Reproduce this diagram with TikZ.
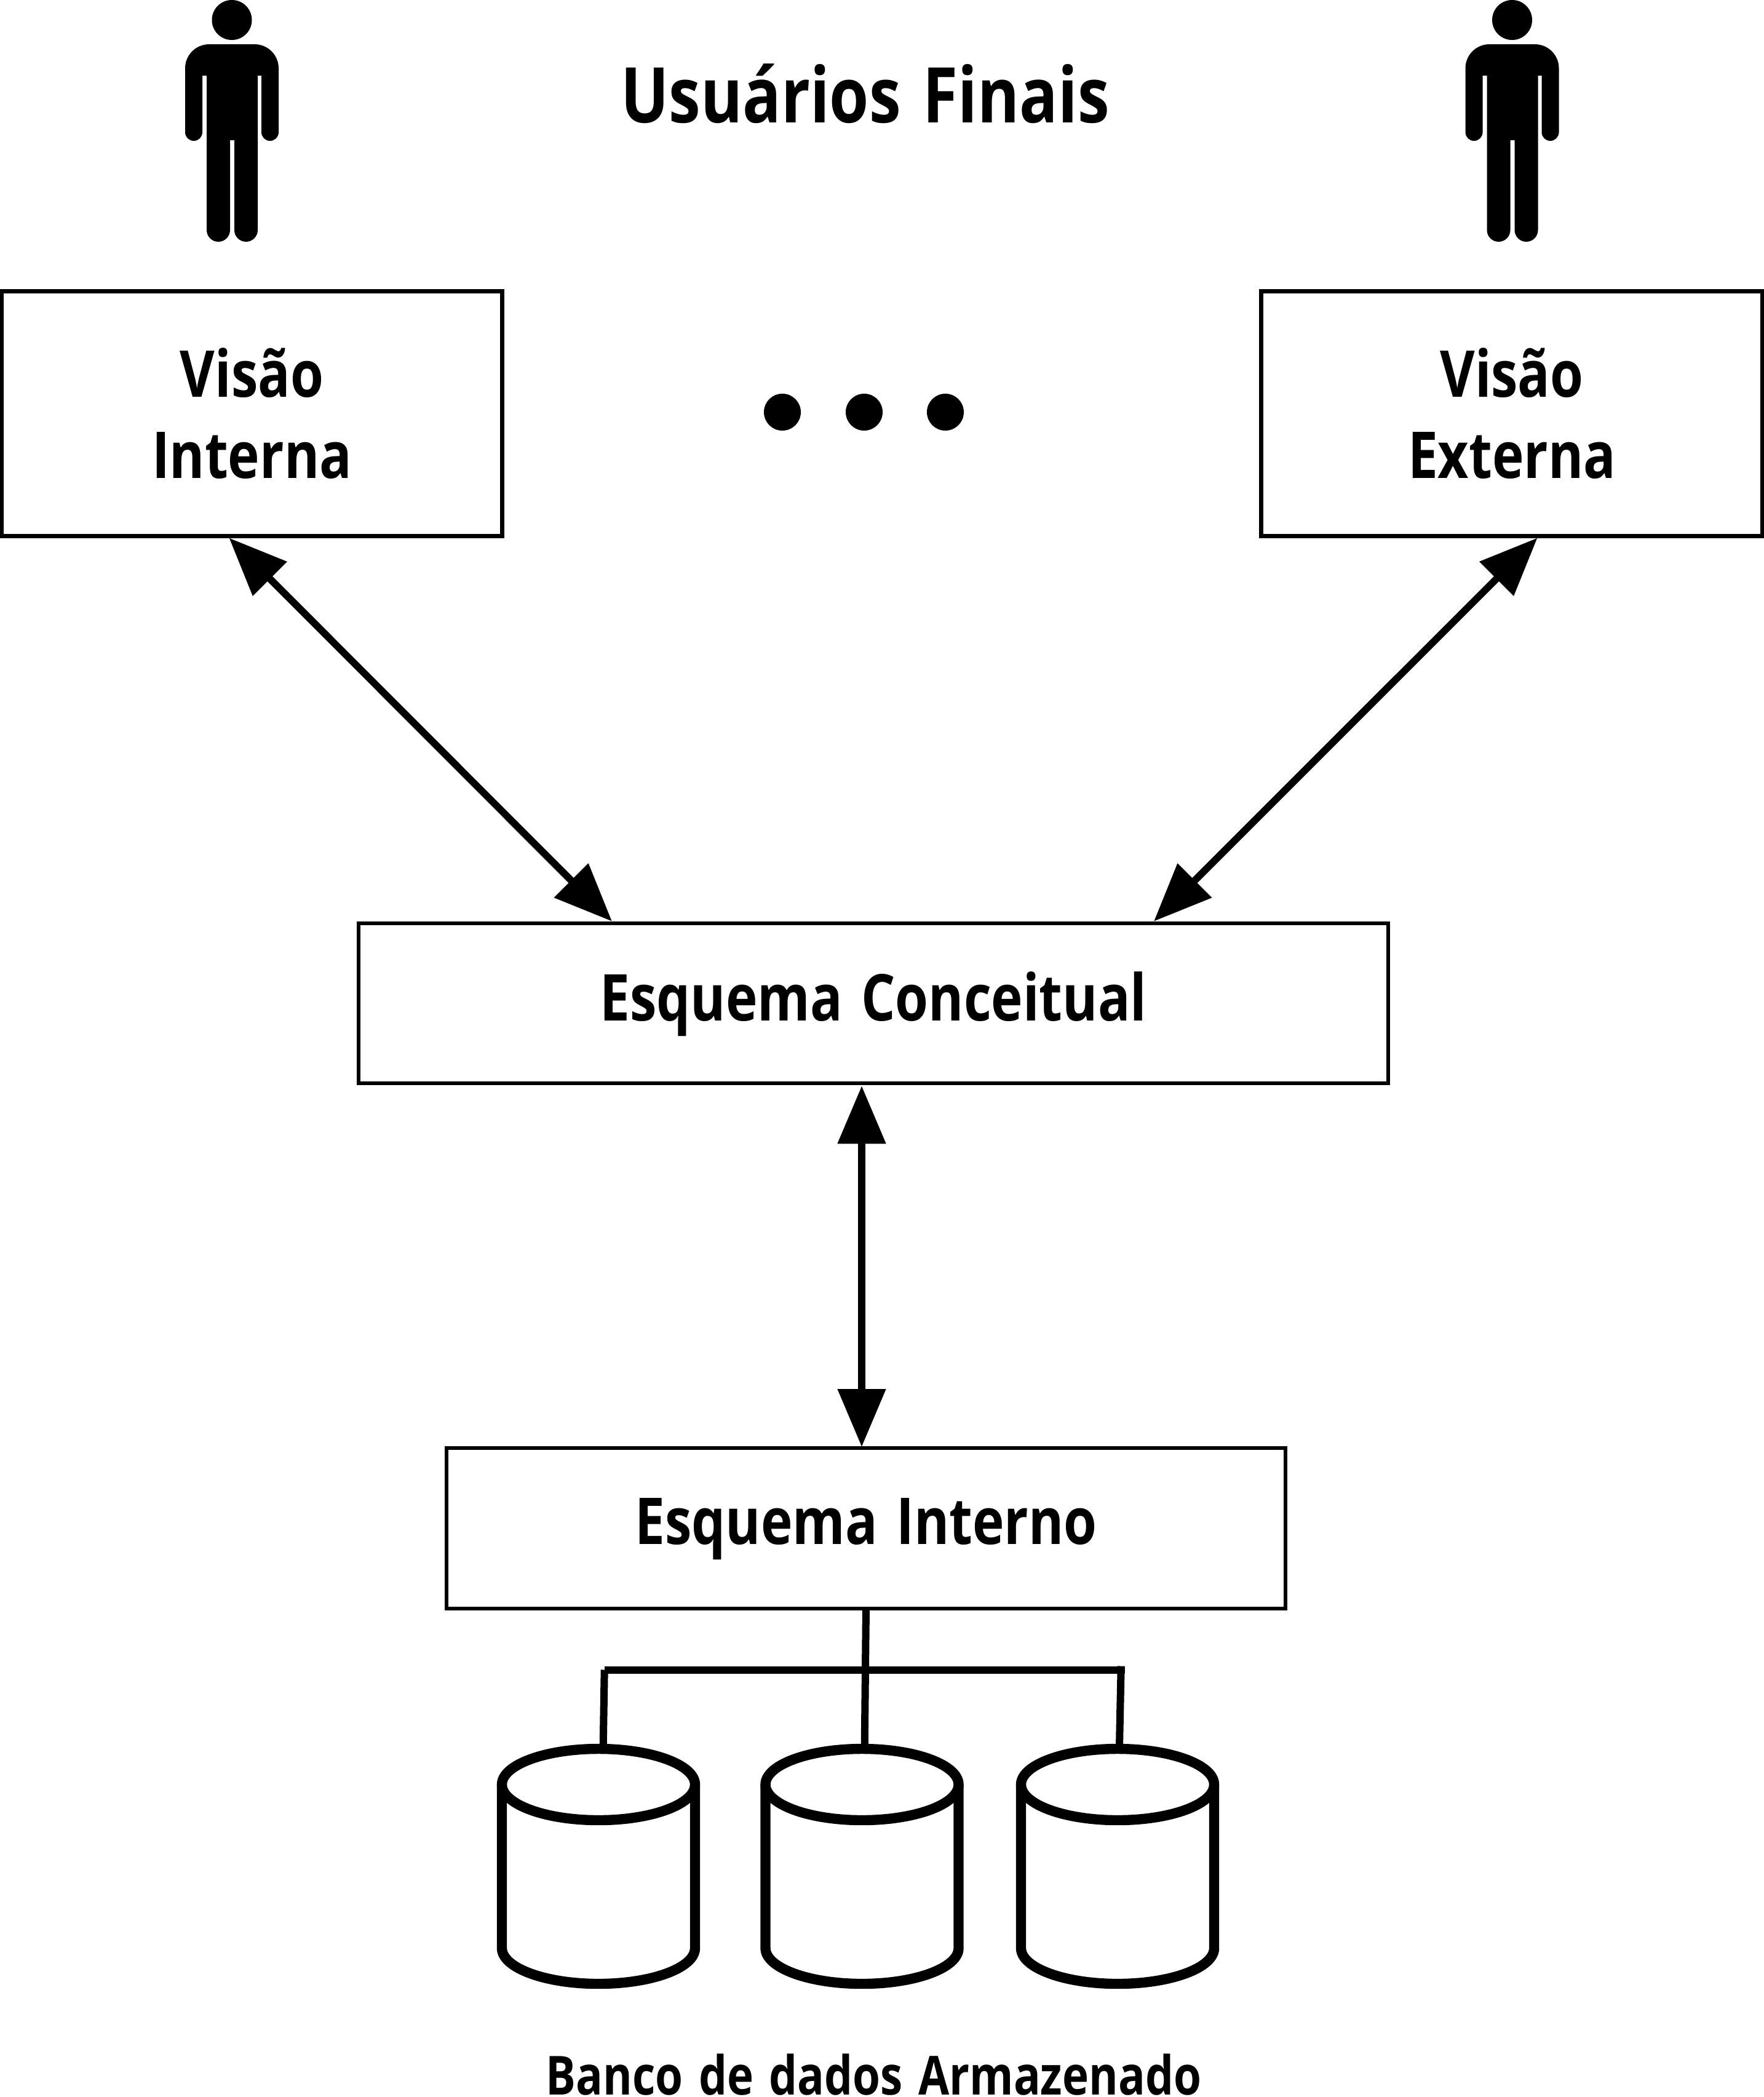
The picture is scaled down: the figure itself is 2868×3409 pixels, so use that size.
\documentclass[tikz,border=0pt]{standalone}
\usepackage{fontspec}
\usetikzlibrary{arrows.meta,calc}
\setmainfont[FakeStretch=0.83,WordSpace=1.35,BoldFont={Open Sans Bold}]{Open Sans}
\tikzset{
 box/.style={draw=black,line width=3.1pt,minimum width=#1,outer sep=0pt,inner sep=0pt,align=center,font=\bfseries\labelsize},
 link/.style={line width=5.8pt,{Triangle[length=47pt,width=38pt]}-{Triangle[length=47pt,width=38pt]}},
 wire/.style={line width=6pt},
 person/.pic={
  \fill (0,32.5) circle[radius=16.25pt];
  \fill[rounded corners=19.5pt] (-76,160) -- (-76,72) -- (76,72) -- (76,160)
   [rounded corners=7pt] -- (76,229) -- (48,229) [sharp corners] -- (48,123) -- (42,123)
   [rounded corners=9.5pt] -- (42,393) -- (4,393) [sharp corners] -- (4,228) -- (-3,228)
   [rounded corners=9.5pt] -- (-3,393) -- (-41,393) [sharp corners] -- (-41,123) -- (-48,123)
   [rounded corners=7pt] -- (-48,229) -- (-76,229) -- (-76,160) -- cycle;
 },
 cylbody/.pic={
  \draw[line width=8.2pt] (0,66) circle[x radius=78.5pt,y radius=29pt];
  \draw[line width=8.2pt] (-157,66) -- (-157,332) arc[start angle=180,end angle=360,x radius=78.5pt,y radius=29pt] -- (157,66);
 },
}
\newcommand\labelsize{\fontsize{52.5}{66}\selectfont}
\begin{document}
\begin{tikzpicture}[x=0.5pt,y=-0.5pt]
\useasboundingbox (0,0) rectangle (2868,3409);
\pic at (377,0) {person};
\pic at (2458.5,0) {person};
\node (title) at (1406.5,152) {\bfseries\fontsize{62.5}{75}\selectfont Usuários Finais};
\node[box=407pt,minimum height=199pt] (vi) at (409.5,672.5) {Visão\\Interna};
\node[box=407.5pt,minimum height=199pt] (ve) at (2458,672.5) {Visão\\Externa};
\foreach \n/\x in {d1/1272,d2/1405,d3/1537} \fill (\x,670) circle[radius=15pt] coordinate (\n);
\node[box=837pt,minimum height=130.25pt,text height=30pt,text depth=2pt] (ec) at (1420,1631) {Esquema Conceitual};
\node[box=682pt,minimum height=130.5pt,text height=30pt,text depth=4.5pt] (ei) at (1408,2484.5) {Esquema Interno};
\foreach \n/\x in {db1/973,db2/1401.5,db3/1817}{
 \node[minimum width=165pt,minimum height=199pt,inner sep=0pt,outer sep=0pt] (\n) at (\x,3034) {};
 \pic at (\n.north) {cylbody};
}
\draw[link] ($(vi.south west)+(370,3)$) -- ($(ec.north west)+(412,-3)$);
\draw[link] ($(ve.south west)+(449,3)$) -- ($(ec.north west)+(1293,-3)$);
\draw[link] ($(ec.south west)+(818,4)$) -- ($(ei.north west)+(675,-2)$);
\coordinate (busl) at (983,2714.5);
\coordinate (busr) at (1829,2714.5);
\draw[line width=6pt] (busl) -- (busr);
\draw[wire] (ei.south) -- ($(db2.north)+(4.2,3)$);
\draw[wire] ($(busl)+(-0.3,0)$) -- ($(db1.north)+(7.7,3)$);
\draw[wire] ($(busr)+(-6.3,-6)$) -- ($(db3.north)+(3,3)$);
\node[anchor=base,inner sep=0pt] (cap) at (1420.5,3405) {\bfseries\fontsize{43.8}{52}\selectfont Banco de dados Armazenado};
\end{tikzpicture}
\end{document}
